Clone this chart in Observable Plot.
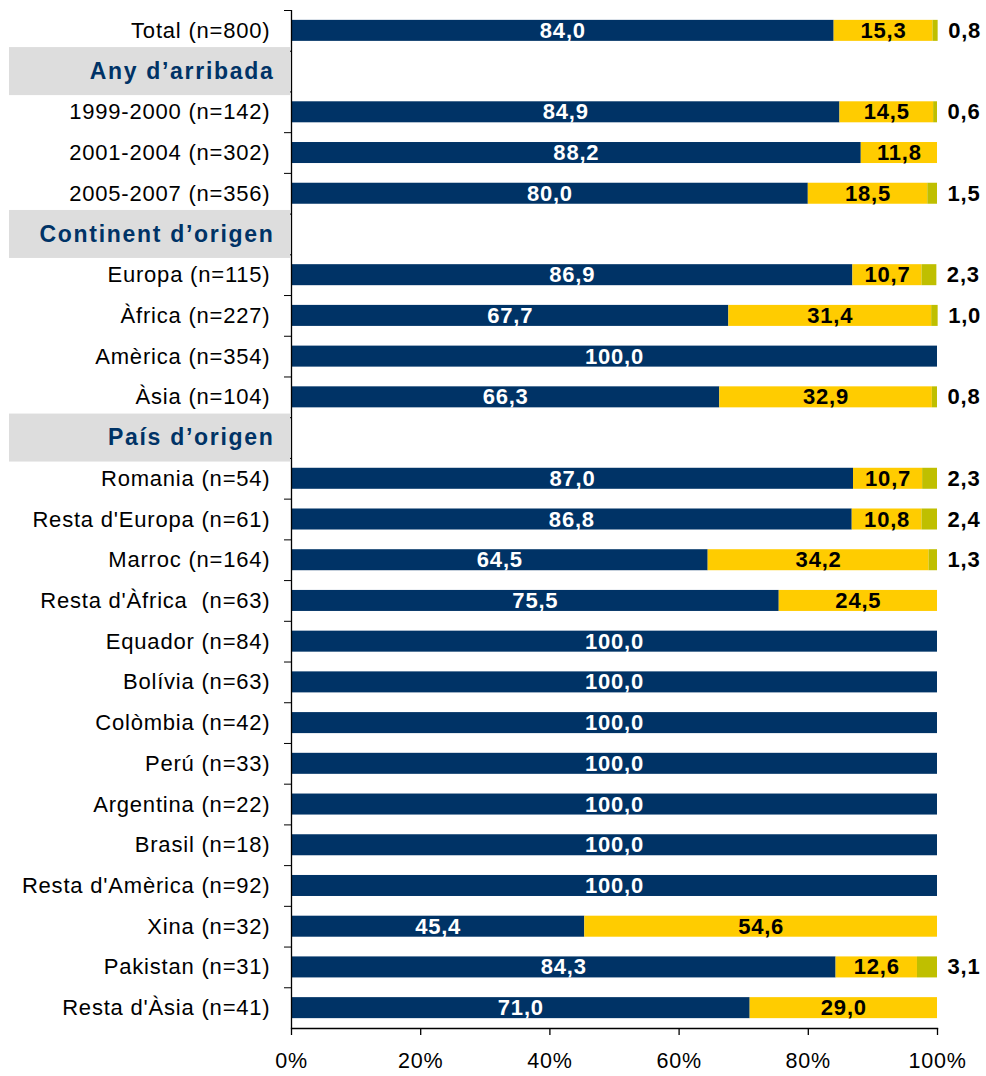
<!DOCTYPE html>
<html>
<head>
<meta charset="utf-8">
<script src="https://cdn.jsdelivr.net/npm/d3@7"></script>
<script src="https://cdn.jsdelivr.net/npm/@observablehq/plot@0.6"></script>
<style>
  html, body { margin: 0; padding: 0; background: #fff; }
  svg { display: block; }
</style>
</head>
<body>
<div id="chart"></div>
<script>
// Row labels, top to bottom (headers included)
const rowLabels = [
  "Total (n=800)",
  "Any d’arribada",
  "1999-2000 (n=142)",
  "2001-2004 (n=302)",
  "2005-2007 (n=356)",
  "Continent d’origen",
  "Europa (n=115)",
  "Àfrica (n=227)",
  "Amèrica (n=354)",
  "Àsia (n=104)",
  "País d’origen",
  "Romania (n=54)",
  "Resta d'Europa (n=61)",
  "Marroc (n=164)",
  "Resta d'Àfrica  (n=63)",
  "Equador (n=84)",
  "Bolívia (n=63)",
  "Colòmbia (n=42)",
  "Perú (n=33)",
  "Argentina (n=22)",
  "Brasil (n=18)",
  "Resta d'Amèrica (n=92)",
  "Xina (n=32)",
  "Pakistan (n=31)",
  "Resta d'Àsia (n=41)"
];
const headerLabels = ["Any d’arribada", "Continent d’origen", "País d’origen"];

// Series values (null = header row / no value)
const series1 = [84.0, null, 84.9, 88.2, 80.0, null, 86.9, 67.7, 100.0, 66.3, null,
  87.0, 86.8, 64.5, 75.5, 100.0, 100.0, 100.0, 100.0, 100.0, 100.0, 100.0, 45.4, 84.3, 71.0];
const series2 = [15.3, null, 14.5, 11.8, 18.5, null, 10.7, 31.4, null, 32.9, null,
  10.7, 10.8, 34.2, 24.5, null, null, null, null, null, null, null, 54.6, 12.6, 29.0];
const series3 = [0.8, null, 0.6, null, 1.5, null, 2.3, 1.0, null, 0.8, null,
  2.3, 2.4, 1.3, null, null, null, null, null, null, null, null, null, 3.1, null];

const seriesNames = ["s1", "s2", "s3"];
const seriesColors = ["#003366", "#FFCC00", "#BFBF00"];
const xTicks = [0, 20, 40, 60, 80, 100];

const fmt = v => v.toFixed(1).replace(".", ",");

const long = [];
rowLabels.forEach((label, i) => {
  [series1, series2, series3].forEach((arr, j) => {
    if (arr[i] != null) long.push({label, series: seriesNames[j], value: arr[i]});
  });
});
const outside = rowLabels.map((label, i) => ({label, value: series3[i],
  total: (series1[i] || 0) + (series2[i] || 0) + (series3[i] || 0)})).filter(d => d.value != null);
const normalRows = rowLabels.filter(l => !headerLabels.includes(l));

const W = 986, H = 1076, mT = 10, mB = 48, mL = 291, mR = 49;
const pad = 0.484;
const step = (H - mT - mB) / rowLabels.length;
const halfStep = step / 2;
const outerExtra = step * pad / 2;

const chart = Plot.plot({
  width: W,
  height: H,
  marginLeft: mL,
  marginRight: mR,
  marginTop: mT,
  marginBottom: mB,
  x: {domain: [0, 100], axis: null},
  y: {domain: rowLabels, padding: pad, round: false, range: [mT - outerExtra, H - mB + outerExtra], axis: null},
  color: {domain: seriesNames, range: seriesColors},
  style: {fontFamily: "'Liberation Sans', Arial, sans-serif", color: "#000", background: "#fff", letterSpacing: "0.8px"},
  marks: [
    Plot.axisY({ticks: rowLabels, tickSize: 7, tickFormat: () => "", label: null, dy: -halfStep, stroke: "#000", strokeOpacity: 1}),
    Plot.barX(headerLabels, {y: d => d, x1: 0, x2: 0, insetLeft: -282, insetRight: 1,
      insetTop: -13.5, insetBottom: -13.5, fill: "#DDDDDD"}),
    Plot.barX(long, Plot.stackX({x: "value", y: "label", z: "series", fill: "series", insetLeft: 0, insetRight: 0})),
    Plot.ruleX([0], {stroke: "#000", strokeWidth: 1.3}),
    Plot.frame({anchor: "bottom", stroke: "#000", strokeWidth: 1.3}),
    Plot.axisX({ticks: xTicks, tickFormat: d => d + "%", tickSize: 7, tickPadding: 17, label: null,
      fontSize: 21.5, stroke: "#000", strokeOpacity: 1, strokeWidth: 1.3, fill: "#000"}),
    Plot.text(normalRows, {x: 0, y: d => d, text: d => d, dx: -21, textAnchor: "end",
      fontSize: 22, fill: "#000"}),
    Plot.text(headerLabels, {x: 0, y: d => d, text: d => d, dx: -17, textAnchor: "end",
      fontSize: 23, fontWeight: "bold", fill: "#003366"}),
    Plot.text(long, Plot.stackX({x: "value", y: "label", z: "series",
      text: d => d.series === "s1" ? fmt(d.value) : "", fill: "white", fontWeight: "bold", fontSize: 22})),
    Plot.text(long, Plot.stackX({x: "value", y: "label", z: "series",
      text: d => d.series === "s2" ? fmt(d.value) : "", fill: "black", fontWeight: "bold", fontSize: 22})),
    Plot.text(outside, {x: "total", y: "label", text: d => fmt(d.value), dx: 10, textAnchor: "start",
      fill: "black", fontWeight: "bold", fontSize: 22})
  ]
});
d3.select(chart).selectAll("text")
  .filter(function() { return headerLabels.includes(this.textContent); })
  .style("letter-spacing", "1.7px");
document.getElementById("chart").appendChild(chart);
</script>
</body>
</html>
